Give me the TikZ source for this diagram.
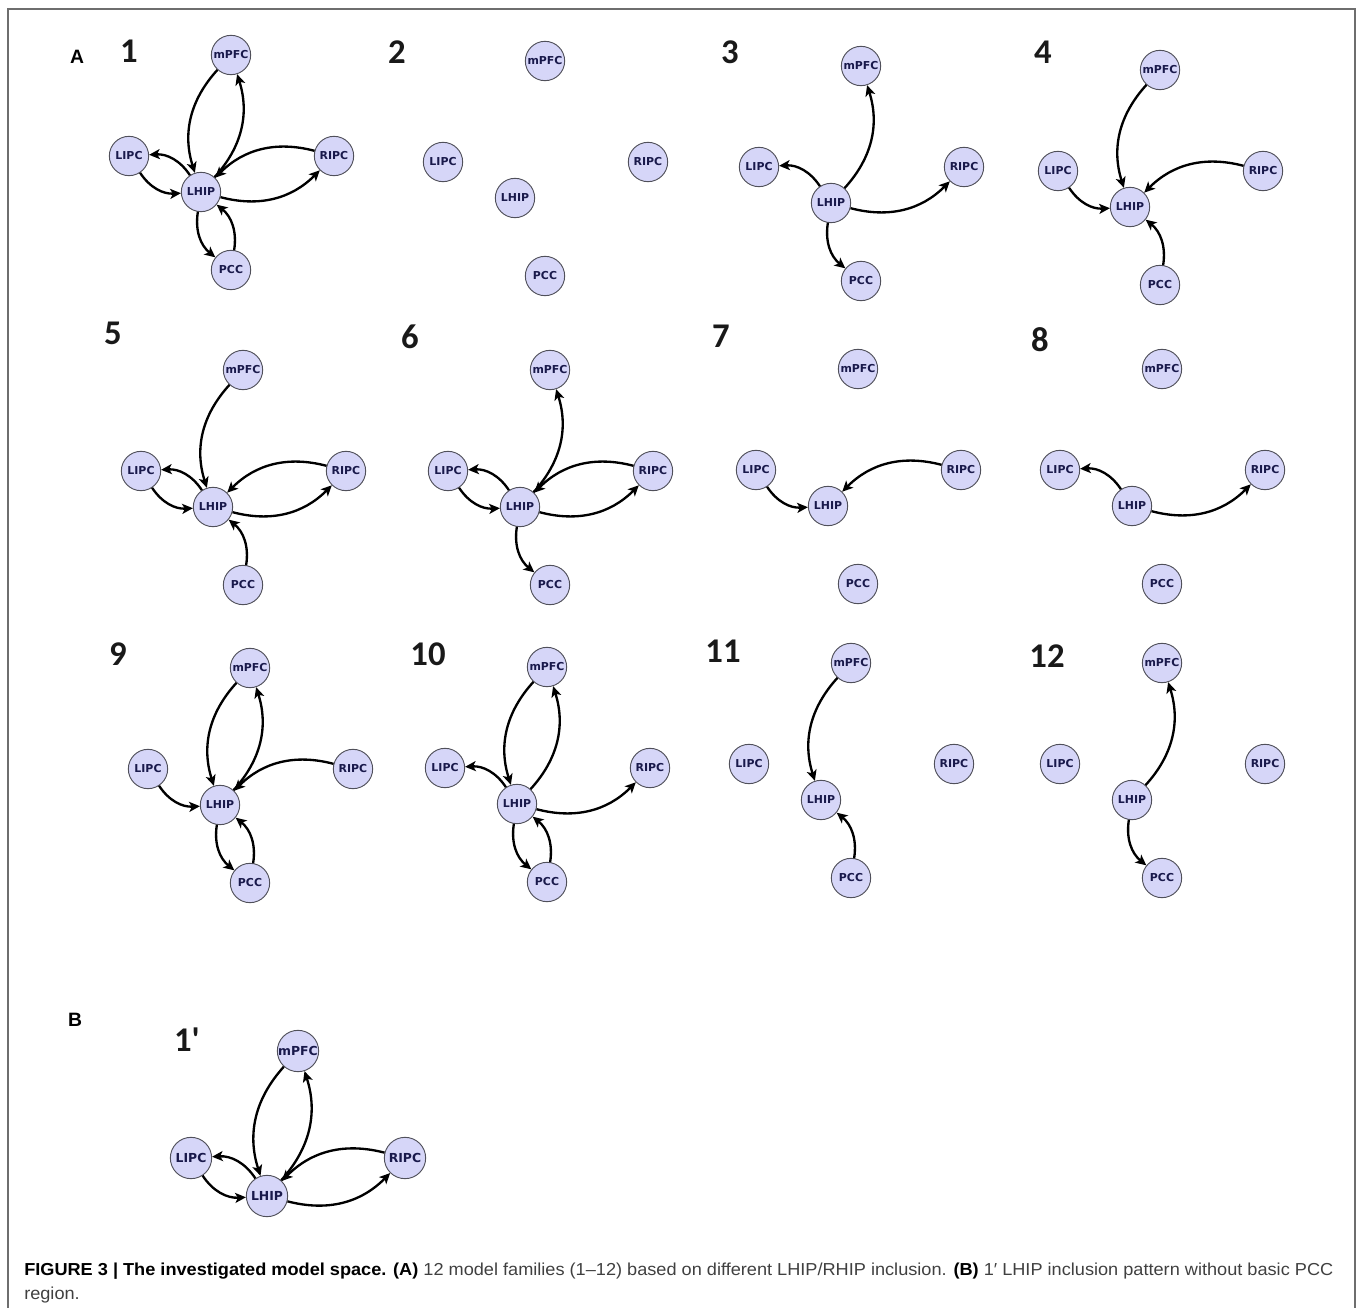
\documentclass[tikz,border=0pt]{standalone}
\usepackage{fontspec}
\usetikzlibrary{arrows.meta,calc}
\newfontfamily\nodefont{DejaVu Sans}
\newfontfamily\numfont{Carlito}
\newfontfamily\capfamily{Liberation Sans}
\definecolor{nodefill}{RGB}{214,214,248}
\definecolor{nodeborder}{RGB}{80,80,90}
\definecolor{nodetext}{RGB}{25,25,75}
\definecolor{captext}{RGB}{64,64,64}
\definecolor{framecol}{RGB}{110,110,110}
\newlength\capw
\newcommand\capone{\textbf{\color{black}FIGURE 3 | The investigated model space. (A)} 12 model families (1–12) based on different LHIP/RHIP inclusion. \textbf{\color{black}(B)} 1′ LHIP inclusion pattern without basic PCC}
\tikzset{
  brain/.style={circle, draw=nodeborder, line width=0.7pt, fill=nodefill, minimum size=29.5pt, inner sep=0pt,
    font=\nodefont\bfseries\fontsize{8.2}{9}\selectfont, text=nodetext},
  brainB/.style={brain, minimum size=31pt, font=\nodefont\bfseries\fontsize{9.3}{10}\selectfont},
  conn/.style={line width=1.75pt, -{Stealth[length=8pt,width=7.5pt,inset=2pt]}, bend right=30},
  panelnum/.style={font=\numfont\bfseries\fontsize{26}{28}\selectfont, text=black!90, inner sep=0pt},
  sectlabel/.style={font=\capfamily\bfseries\fontsize{14.5}{16}\selectfont, inner sep=0pt},
  capline/.style={anchor=base west, inner sep=0pt, text=captext},
}
\newcommand\net[3]{%
  \node[brain] (lh#1) at (#2,#3) {LHIP};
  \node[brain] (m#1) at ($(lh#1)+(30,-137)$) {mPFC};
  \node[brain] (li#1) at ($(lh#1)+(-72,-36)$) {LIPC};
  \node[brain] (ri#1) at ($(lh#1)+(133,-36)$) {RIPC};
  \node[brain] (pc#1) at ($(lh#1)+(30,78)$) {PCC};
}
\begin{document}
\settowidth\capw{\capfamily\fontsize{13}{15}\selectfont\capone}%
\pgfmathsetmacro\capsx{981.75/\capw}%
\begin{tikzpicture}[x=0.75pt,y=-0.75pt]
\useasboundingbox (0,0) rectangle (1360,1308);
\draw[framecol, line width=0.8pt] (8,1312) -- (8,9) -- (1355,9) -- (1355,1312);

\node[sectlabel] (labA) at (77,57) {A};
\node[sectlabel] (labB) at (75,1020) {B};

\node[panelnum] (n1) at (129,51) {1};
\node[panelnum] (n2) at (397,52) {2};
\node[panelnum] (n3) at (730,52) {3};
\node[panelnum] (n4) at (1043,52) {4};
\node[panelnum] (n5) at (113,333) {5};
\node[panelnum] (n6) at (410,337) {6};
\node[panelnum] (n7) at (721,336) {7};
\node[panelnum] (n8) at (1040,340) {8};
\node[panelnum] (n9) at (118,654) {9};
\node[panelnum] (n10) at (428,654) {10};
\node[panelnum] (n11) at (723,651) {11};
\node[panelnum] (n12) at (1047,656) {12};
\node[panelnum] (n1b) at (187,1040) {1'};

% panel nodes
\net{1}{201}{192}
\net{2}{515}{198}
\net{3}{831}{203}
\net{4}{1130}{207}
\net{5}{213}{507}
\net{6}{520}{507}
\net{7}{828}{506}
\net{8}{1132}{506}
\net{9}{220}{805}
\net{10}{517}{804}
\net{11}{821}{800}
\net{12}{1132}{800}

% panel B
\node[brainB] (lhB) at (267,1196) {LHIP};
\node[brainB] (mB) at (298,1051) {mPFC};
\node[brainB] (liB) at (191,1158) {LIPC};
\node[brainB] (riB) at (405,1158) {RIPC};

% edges
% 1
\draw[conn] (m1) to (lh1); \draw[conn] (lh1) to (m1);
\draw[conn] (lh1) to (li1); \draw[conn] (li1) to (lh1);
\draw[conn] (ri1) to (lh1); \draw[conn] (lh1) to (ri1);
\draw[conn] (lh1) to (pc1); \draw[conn] (pc1) to (lh1);
% 3
\draw[conn] (lh3) to (m3); \draw[conn] (lh3) to (li3);
\draw[conn] (lh3) to (ri3); \draw[conn] (lh3) to (pc3);
% 4
\draw[conn] (m4) to (lh4); \draw[conn] (li4) to (lh4);
\draw[conn] (ri4) to (lh4); \draw[conn] (pc4) to (lh4);
% 5
\draw[conn] (m5) to (lh5);
\draw[conn] (lh5) to (li5); \draw[conn] (li5) to (lh5);
\draw[conn] (ri5) to (lh5); \draw[conn] (lh5) to (ri5);
\draw[conn] (pc5) to (lh5);
% 6
\draw[conn] (lh6) to (m6);
\draw[conn] (lh6) to (li6); \draw[conn] (li6) to (lh6);
\draw[conn] (ri6) to (lh6); \draw[conn] (lh6) to (ri6);
\draw[conn] (lh6) to (pc6);
% 7
\draw[conn] (li7) to (lh7); \draw[conn] (ri7) to (lh7);
% 8
\draw[conn] (lh8) to (li8); \draw[conn] (lh8) to (ri8);
% 9
\draw[conn] (m9) to (lh9); \draw[conn] (lh9) to (m9);
\draw[conn] (li9) to (lh9); \draw[conn] (ri9) to (lh9);
\draw[conn] (lh9) to (pc9); \draw[conn] (pc9) to (lh9);
% 10
\draw[conn] (m10) to (lh10); \draw[conn] (lh10) to (m10);
\draw[conn] (lh10) to (li10); \draw[conn] (lh10) to (ri10);
\draw[conn] (lh10) to (pc10); \draw[conn] (pc10) to (lh10);
% 11
\draw[conn] (m11) to (lh11); \draw[conn] (pc11) to (lh11);
% 12
\draw[conn] (lh12) to (m12); \draw[conn] (lh12) to (pc12);
% B
\draw[conn] (mB) to (lhB); \draw[conn] (lhB) to (mB);
\draw[conn] (lhB) to (liB); \draw[conn] (liB) to (lhB);
\draw[conn] (riB) to (lhB); \draw[conn] (lhB) to (riB);

% caption
\node[capline] (cap1) at (24,1275) {\scalebox{\capsx}[1]{\capfamily\fontsize{13}{15}\selectfont\capone}};
\node[capline] (cap2) at (24,1299) {\scalebox{\capsx}[1]{\capfamily\fontsize{13}{15}\selectfont region.}};
\end{tikzpicture}
\end{document}
